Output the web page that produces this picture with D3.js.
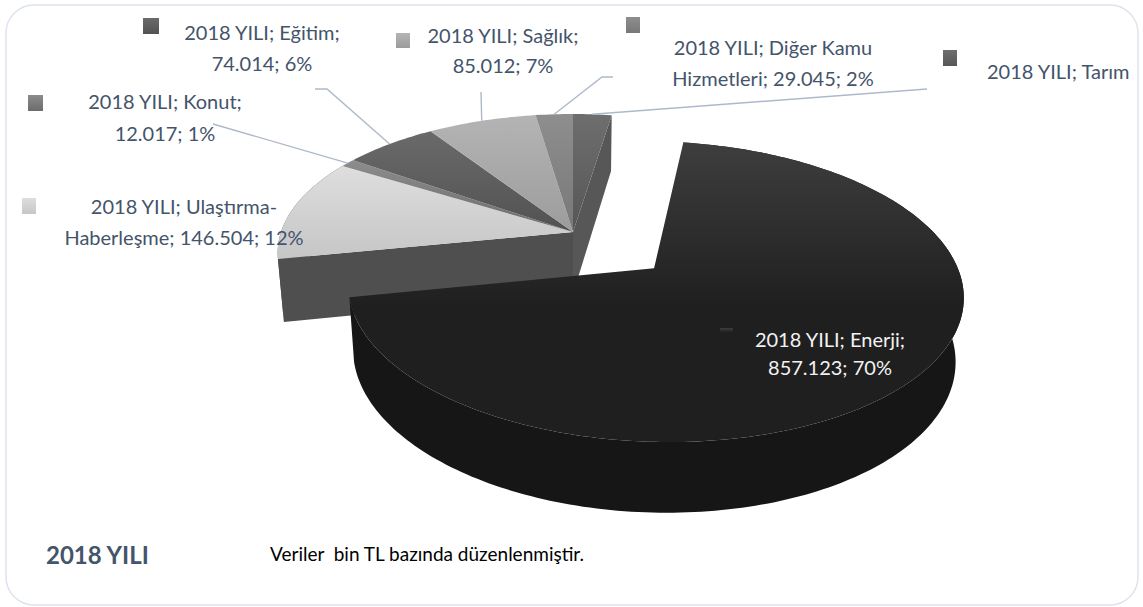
<!DOCTYPE html>
<html>
<head>
<meta charset="utf-8">
<script src="https://cdn.jsdelivr.net/npm/d3@7"></script>
<style>
html, body { margin: 0; padding: 0; background: #fff; }
svg { display: block; }
</style>
</head>
<body>
<div id="chart"></div>
<script>
var categories = ["Tarım", "Enerji", "Ulaştırma-Haberleşme", "Konut", "Eğitim", "Sağlık", "Diğer Kamu Hizmetleri"];
// Tarım value is cut off in the picture
var values = [30000, 857123, 146504, 12017, 74014, 85012, 29045];
var seriesName = "2018 YILI";
var labelLines = [
  ["2018 YILI; Tarım"],
  ["2018 YILI; Enerji;", "857.123; 70%"],
  ["2018 YILI; Ulaştırma-", "Haberleşme; 146.504; 12%"],
  ["2018 YILI; Konut;", "12.017; 1%"],
  ["2018 YILI; Eğitim;", "74.014; 6%"],
  ["2018 YILI; Sağlık;", "85.012; 7%"],
  ["2018 YILI; Diğer Kamu", "Hizmetleri; 29.045; 2%"]
];
var noteText = "Veriler  bin TL bazında düzenlenmiştir.";

var width = 1143;
var height = 607;
var fontFamily = "Lato, Carlito, sans-serif";
var labelColor = "#44546a";
var leaderColor = "#adb9ca";

// perspective of the pie plane
var cx = 573, cy = 232;
var scaleU = 292, scaleV = 135.7, persp = 0.15;
var depthY = 63, depthPersp = 0.02;
var explodeEnerji = 0.37;

// top and bottom colours of each slice, same order as categories
var topColors = ["#6e6e6e", "#3e3e3e", "#dedede", "#8c8c8c", "#6a6a6a", "#b4b4b4", "#8e8e8e"];
var bottomColors = ["#565656", "#1f1f1f", "#c6c6c6", "#6c6c6c", "#525252", "#9c9c9c", "#787878"];
var wallColors = ["#4e4e4e", "#161616", "#4f4f4f", "#4f4f4f", "#4f4f4f", "#4f4f4f", "#4f4f4f"];

// where labels, legend keys and leaders sit: [x, y of each line], key [x, y, w, h], leader start points
var labelPos = [
  { x: 987, y: [79], anchor: "start", key: [943, 50, 14, 16], leader: [[927, 89]] },
  { x: 830, y: [347, 375], anchor: "middle", fill: "#f2f2f2", key: [720, 328, 13, 8], leader: null },
  { x: 184, y: [214, 245], anchor: "middle", key: [22, 198, 14, 16], leader: null },
  { x: 165, y: [109, 141], anchor: "middle", key: [28, 95, 15, 16], leader: [[213, 124]] },
  { x: 262, y: [40, 71], anchor: "middle", key: [143, 18, 16, 16], leader: [[315, 89], [327, 89]] },
  { x: 503, y: [43, 73], anchor: "middle", key: [396, 33, 14, 15], leader: [[481, 92]] },
  { x: 773, y: [55, 86], anchor: "middle", key: [626, 17, 14, 16], leader: [[613, 77], [602, 77]] }
];

function project(u, v, z) {
  var d = 1 - persp * v + depthPersp * z;
  return [cx + scaleU * u / d, cy + (scaleV * v + depthY * z) / d];
}

// polar point on the plane, angle clockwise from 12 o'clock
function polar(a, r, off) {
  return [off[0] + r * Math.sin(a), off[1] - r * Math.cos(a)];
}

function arcPoints(s, z) {
  var n = Math.max(2, Math.ceil((s.endAngle - s.startAngle) / 0.02));
  return d3.range(n + 1).map(function (i) {
    var a = s.startAngle + (s.endAngle - s.startAngle) * i / n;
    var p = polar(a, 1, s.off);
    return project(p[0], p[1], z);
  });
}

var line = d3.line();

var svg = d3.select("#chart").append("svg")
  .attr("width", width)
  .attr("height", height);

var defs = svg.append("defs");
defs.append("clipPath").attr("id", "frameClip")
  .append("rect").attr("x", 0).attr("y", 0).attr("width", 1140).attr("height", height);

categories.forEach(function (c, i) {
  var g = defs.append("linearGradient").attr("id", "grad" + i)
    .attr("x1", 0).attr("y1", 0).attr("x2", 0).attr("y2", 1);
  g.append("stop").attr("offset", "0%").attr("stop-color", topColors[i]);
  g.append("stop").attr("offset", i == 1 ? "55%" : "100%").attr("stop-color", bottomColors[i]);
});

svg.append("rect")
  .attr("x", 6).attr("y", 5)
  .attr("width", 1132).attr("height", 600)
  .attr("rx", 28).attr("ry", 28)
  .attr("fill", "#fff")
  .attr("stroke", "#dde4ed")
  .attr("stroke-width", 1.5);

var pie = d3.pie().sort(null).startAngle(0).endAngle(2 * Math.PI);
var slices = pie(values);
slices.forEach(function (s, i) {
  s.off = [0, 0];
  if (i == 1) {
    var mid = (s.startAngle + s.endAngle) / 2;
    s.off = polar(mid, explodeEnerji, [0, 0]);
  }
});

function drawWall(g, s, i) {
  var top = arcPoints(s, 0);
  var bottom = arcPoints(s, 1).reverse();
  g.append("path")
    .attr("d", line(top.concat(bottom)) + "Z")
    .attr("fill", wallColors[i]);
}

function drawCut(g, s, angle, fill) {
  var rim = polar(angle, 1, s.off);
  g.append("path")
    .attr("d", line([
      project(s.off[0], s.off[1], 0),
      project(rim[0], rim[1], 0),
      project(rim[0], rim[1], 1),
      project(s.off[0], s.off[1], 1)
    ]) + "Z")
    .attr("fill", fill);
}

function drawTop(g, s, i) {
  var apex = project(s.off[0], s.off[1], 0);
  g.append("path")
    .attr("d", line([apex].concat(arcPoints(s, 0))) + "Z")
    .attr("fill", "url(#grad" + i + ")");
}

var pieGroup = svg.append("g");
// back part first, the exploded Enerji slice comes last
drawCut(pieGroup, slices[2], slices[2].startAngle, wallColors[2]);
drawWall(pieGroup, slices[2], 2);
drawCut(pieGroup, slices[0], slices[0].endAngle, "#575757");
slices.forEach(function (s, i) {
  if (i != 1) drawTop(pieGroup, s, i);
});
drawWall(pieGroup, slices[1], 1);
drawTop(pieGroup, slices[1], 1);

// leaders
slices.forEach(function (s, i) {
  var pos = labelPos[i];
  if (!pos.leader) return;
  var mid = (s.startAngle + s.endAngle) / 2;
  var rim = polar(mid, 1, s.off);
  svg.append("path")
    .attr("d", line(pos.leader.concat([project(rim[0], rim[1], 0)])))
    .attr("fill", "none")
    .attr("stroke", leaderColor)
    .attr("stroke-width", 1.4);
});

// labels and legend keys
var labelGroup = svg.append("g").attr("clip-path", "url(#frameClip)");
categories.forEach(function (c, i) {
  var pos = labelPos[i];
  labelGroup.append("rect")
    .attr("x", pos.key[0]).attr("y", pos.key[1])
    .attr("width", pos.key[2]).attr("height", pos.key[3])
    .attr("fill", "url(#grad" + i + ")");
  labelLines[i].forEach(function (t, j) {
    labelGroup.append("text")
      .attr("x", pos.x)
      .attr("y", pos.y[j])
      .attr("text-anchor", pos.anchor)
      .attr("font-family", fontFamily)
      .attr("font-size", "20px")
      .attr("fill", pos.fill || labelColor)
      .text(t);
  });
});

svg.append("text")
  .attr("x", 46).attr("y", 564)
  .attr("font-family", fontFamily)
  .attr("font-size", "24px")
  .attr("font-weight", "bold")
  .attr("fill", labelColor)
  .text(seriesName);

svg.append("text")
  .attr("x", 270).attr("y", 561)
  .attr("font-family", fontFamily)
  .attr("font-size", "19px")
  .attr("fill", "#000")
  .attr("xml:space", "preserve")
  .style("white-space", "pre")
  .text(noteText);
</script>
</body>
</html>
